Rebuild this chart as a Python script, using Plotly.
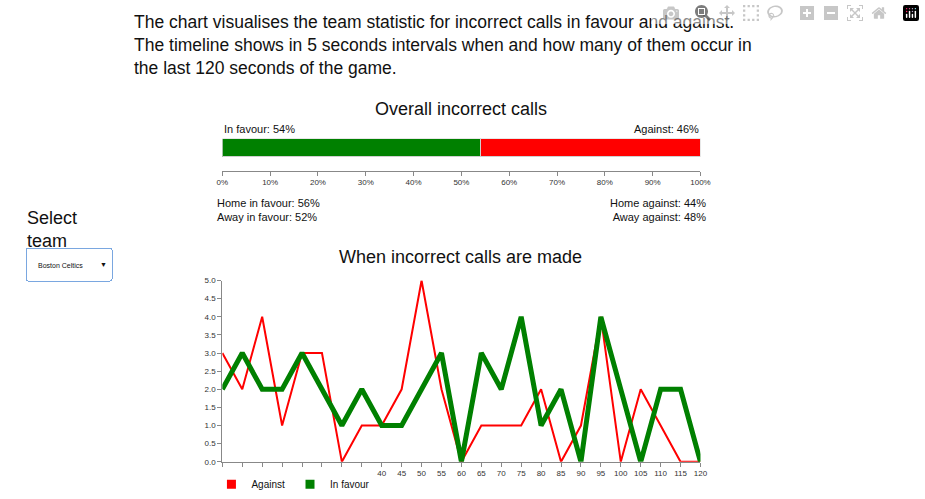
import plotly.graph_objects as go

seconds = list(range(0, 125, 5))
against = [3, 2, 4, 1, 3, 3, 0, 1, 1, 2, 5, 2, 0, 1, 1, 1, 2, 0, 1, 4, 0, 2, 1, 0, 0]
in_favour = [2, 3, 2, 2, 3, 2, 1, 2, 1, 1, 2, 3, 0, 3, 2, 4, 1, 2, 0, 4, 2, 0, 2, 2, 0]

overall_favour = 54
overall_against = 46
home_favour, away_favour = 56, 52
home_against, away_against = 44, 48

RED = "#ff0000"
GREEN = "#008000"
FONT = "Liberation Sans, Arial, sans-serif"

fig = go.Figure()

# overall bar
fig.add_trace(go.Bar(x=[overall_favour], y=[0], orientation="h", marker_color=GREEN,
                     width=1, xaxis="x2", yaxis="y2", showlegend=False,
                     marker_line=dict(color="#cfcfcf", width=1)))
fig.add_trace(go.Bar(x=[overall_against], y=[0], orientation="h", marker_color=RED,
                     width=1, xaxis="x2", yaxis="y2", showlegend=False,
                     marker_line=dict(color="#cfcfcf", width=1)))

# timeline
fig.add_trace(go.Scatter(x=seconds, y=against, mode="lines", line=dict(color=RED, width=2),
                         showlegend=False))
fig.add_trace(go.Scatter(x=seconds, y=in_favour, mode="lines", line=dict(color=GREEN, width=5),
                         showlegend=False))
# square legend entries
fig.add_trace(go.Scatter(x=[None], y=[None], mode="markers", name="Against",
                         marker=dict(symbol="square", color=RED, size=9)))
fig.add_trace(go.Scatter(x=[None], y=[None], mode="markers", name="In favour",
                         marker=dict(symbol="square", color=GREEN, size=9)))

axis_common = dict(showgrid=False, zeroline=False, showline=True, linecolor="#888",
                   ticks="outside", ticklen=4, tickcolor="#888",
                   tickfont=dict(size=8, color="#333"))

fig.update_layout(
    width=925, height=499, margin=dict(l=0, r=0, t=0, b=0),
    plot_bgcolor="white", paper_bgcolor="white",
    font=dict(family=FONT, color="#111"),
    barmode="stack",
    xaxis=dict(domain=[0.238, 0.764], range=[0, 120], tickvals=seconds, **axis_common),
    yaxis=dict(domain=[0.058, 0.431], range=[0, 5], dtick=0.5, tickformat=".1f", **axis_common),
    xaxis2=dict(domain=[0.238, 0.764], range=[0, 100], dtick=10, ticksuffix="%",
                anchor="y2", **axis_common),
    yaxis2=dict(domain=[0.657, 0.723], range=[-1.25, 0.5], visible=False, anchor="x2"),
    legend=dict(orientation="h", x=0.226, y=1 - 493 / 499, yanchor="middle", xanchor="left",
                font=dict(size=10), traceorder="normal", itemwidth=30),
    showlegend=True,
)

para = ("The chart visualises the team statistic for incorrect calls in favour and against.<br>"
        "The timeline shows in 5 seconds intervals when and how many of them occur in<br>"
        "the last 120 seconds of the game.")
ann = [
    dict(text=para, x=128, y=6, xanchor="left", yanchor="top", align="left",
         font=dict(size=17.5)),
    dict(text="Overall incorrect calls", x=463, y=96, xanchor="center", yanchor="top",
         font=dict(size=18)),
    dict(text=f"In favour: {overall_favour}%", x=220, y=120, xanchor="left", yanchor="top",
         font=dict(size=11)),
    dict(text=f"Against: {overall_against}%", x=707, y=120, xanchor="right", yanchor="top",
         font=dict(size=11)),
    dict(text=f"Home in favour: {home_favour}%<br>Away in favour: {away_favour}%", x=213, y=196,
         xanchor="left", yanchor="top", align="left", font=dict(size=11)),
    dict(text=f"Home against: {home_against}%<br>Away against: {away_against}%", x=714, y=196,
         xanchor="right", yanchor="top", align="right", font=dict(size=11)),
    dict(text="Select<br>team", x=19, y=207, xanchor="left", yanchor="top", align="left",
         font=dict(size=18)),
    dict(text="When incorrect calls are made", x=463, y=247, xanchor="center", yanchor="top",
         font=dict(size=18)),
]
for a in ann:
    a["x"] = a["x"] / 925
    a["y"] = 1 - a["y"] / 499
    a.update(xref="paper", yref="paper", showarrow=False)
fig.update_layout(annotations=ann)

fig.update_layout(updatemenus=[dict(
    type="dropdown", x=19 / 925, y=1 - 249 / 499, xanchor="left", yanchor="top",
    buttons=[dict(label="Boston Celtics", method="skip", args=[None])],
    font=dict(size=7), bgcolor="white", bordercolor="#7aa7e0", pad=dict(t=0, b=0, l=0, r=0),
)])

fig.write_html("out.html", post_script="document.body.style.margin='0';")
